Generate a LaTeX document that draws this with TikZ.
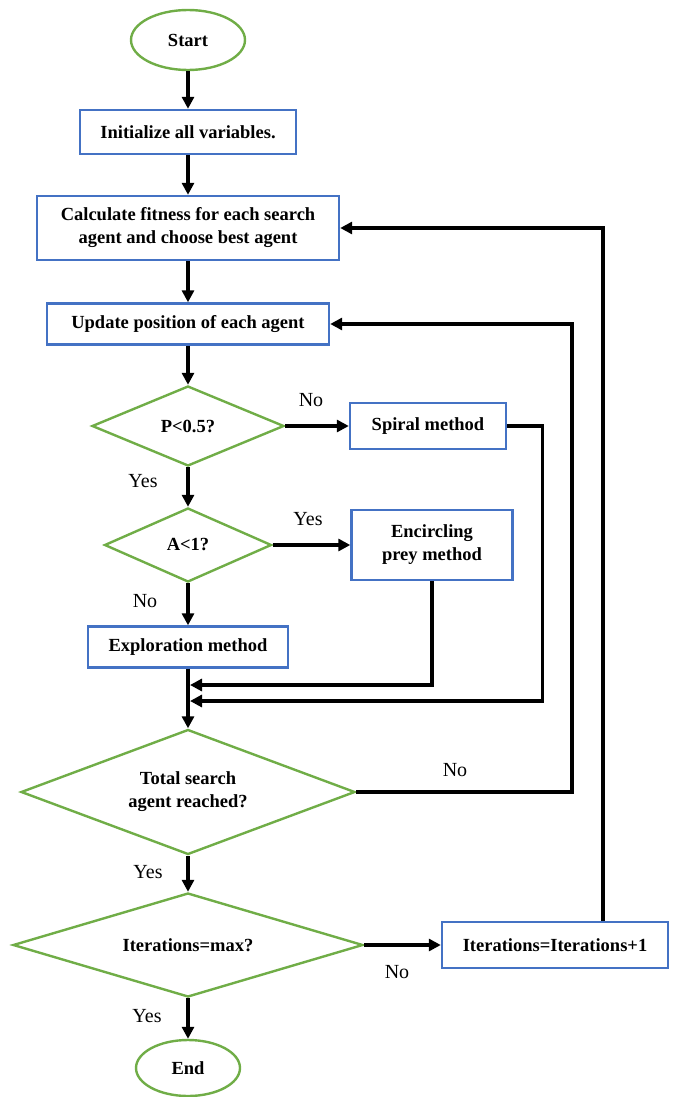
\documentclass[tikz,border=0pt]{standalone}
\usepackage{fontspec}
\setmainfont{Liberation Serif}
\usetikzlibrary{shapes.geometric,arrows.meta}
\definecolor{boxblue}{HTML}{4472C4}
\definecolor{dgreen}{HTML}{70AD47}
\begin{document}
\begin{tikzpicture}[x=1pt,y=-1pt,
  txt/.style={font=\bfseries\fontsize{18.5}{23}\selectfont, align=center, inner sep=0pt},
  proc/.style={txt, draw=boxblue, line width=2.4pt},
  dec/.style={txt, diamond, aspect=2, draw=dgreen, line width=2.4pt},
  term/.style={txt, ellipse, draw=dgreen, line width=2.4pt},
  ln/.style={line width=3.3pt},
  arr/.style={ln, -{Triangle[length=12pt,width=12pt]}},
  lab/.style={font=\fontsize{20}{24}\selectfont, inner sep=0pt}]
\useasboundingbox (0,0) rectangle (675,1097);
\node[term, minimum width=114, minimum height=60] (start) at (188,40) {Start};
\node[proc, minimum width=216, minimum height=44] (init) at (188,132) {Initialize all variables.};
\node[proc, minimum width=302, minimum height=64] (calc) at (188,228) {Calculate fitness for each search\\agent and choose best agent};
\node[proc, minimum width=282, minimum height=41] (upd) at (188,324) {Update position of each agent};
\node[dec, minimum width=192, minimum height=80] (p) at (188,426) {P<0.5?};
\node[proc, minimum width=156, minimum height=46] (spiral) at (428,426) {Spiral method};
\node[dec, minimum width=167, minimum height=74] (a) at (188,545) {A<1?};
\node[proc, minimum width=161, minimum height=70] (enc) at (432,545) {Encircling\\prey method};
\node[proc, minimum width=200, minimum height=41] (expl) at (188,647) {Exploration method};
\node[dec, minimum width=334, minimum height=125] (total) at (188,792) {Total search\\agent reached?};
\node[dec, minimum width=350, minimum height=104] (iter) at (188,945) {Iterations=max?};
\node[proc, minimum width=226, minimum height=46] (inc) at (555,945) {Iterations=Iterations+1};
\node[term, minimum width=104, minimum height=56] (end) at (188,1068) {End};
\coordinate (j1) at (190,685);
\coordinate (j2) at (190,701);
\draw[arr] (start.south) -- (init.north);
\draw[arr] (init.south) -- (calc.north);
\draw[arr] (calc.south) -- (upd.north);
\draw[arr] (upd.south) -- (p.north);
\draw[arr] (p.east) -- (spiral.west);
\draw[arr] (p.south) -- (a.north);
\draw[arr] (a.east) -- (enc.west);
\draw[arr] (a.south) -- (expl.north);
\draw[arr] (expl.south) -- (total.north);
\draw[arr] (enc.south) |- (j1);
\draw[arr] (spiral.east) -- ++(35,0) |- (j2);
\draw[arr] (total.east) -- (572,792) |- (upd.east);
\draw[arr] (total.south) -- (iter.north);
\draw[arr] (iter.east) -- (inc.west);
\draw[arr] ([xshift=48pt]inc.north) |- (calc.east);
\draw[arr] (iter.south) -- (end.north);
\node[lab] (l1) at (311,400) {No};
\node[lab] (l2) at (143,481) {Yes};
\node[lab] (l3) at (308,519) {Yes};
\node[lab] (l4) at (145,601) {No};
\node[lab] (l5) at (455,770) {No};
\node[lab] (l6) at (148,872) {Yes};
\node[lab] (l7) at (397,972) {No};
\node[lab] (l8) at (147,1016) {Yes};
\end{tikzpicture}
\end{document}
